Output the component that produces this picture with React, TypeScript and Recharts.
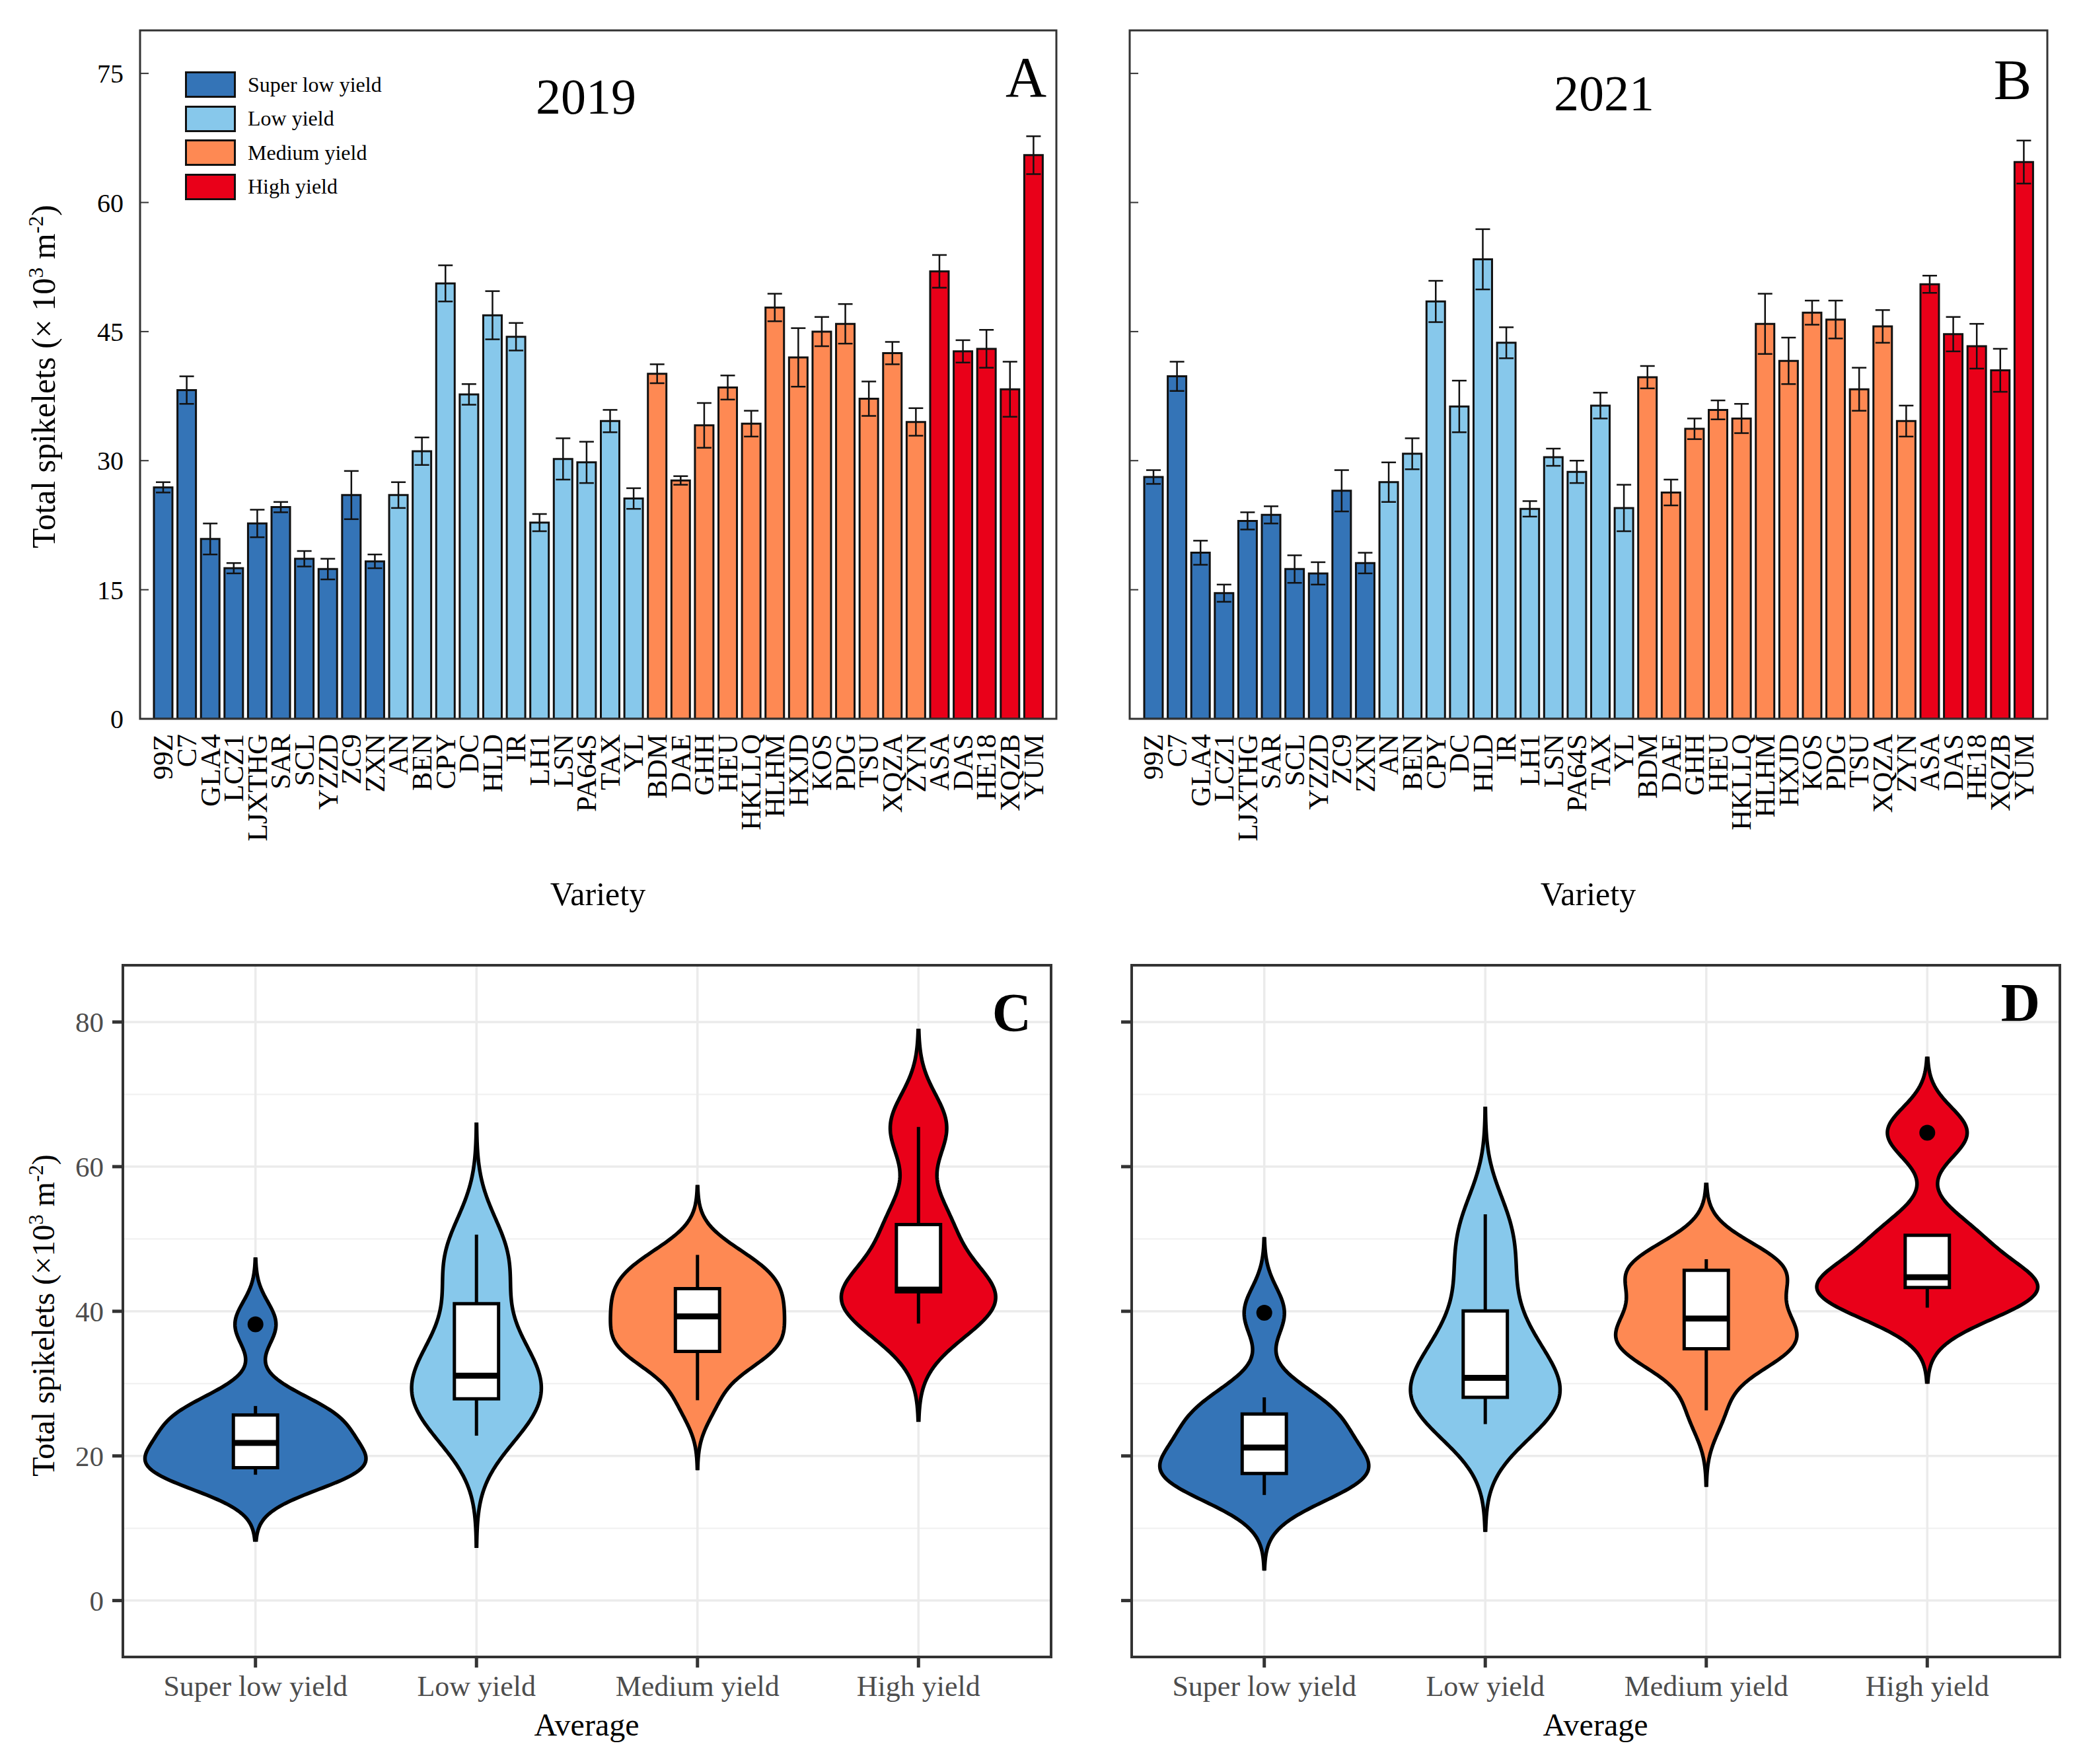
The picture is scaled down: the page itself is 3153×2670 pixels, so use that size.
import React from 'react';
import {
  Area,
  Bar,
  BarChart,
  CartesianGrid,
  Cell,
  ComposedChart,
  ErrorBar,
  Legend,
  ReferenceArea,
  ReferenceDot,
  ReferenceLine,
  XAxis,
  YAxis,
} from 'recharts';

const SERIF = '"Liberation Serif", "Times New Roman", serif';

const VARIETIES = [
  '99Z', 'C7', 'GLA4', 'LCZ1', 'LJXTHG', 'SAR', 'SCL', 'YZZD', 'ZC9', 'ZXN',
  'AN', 'BEN', 'CPY', 'DC', 'HLD', 'IR', 'LH1', 'LSN', 'PA64S', 'TAX', 'YL',
  'BDM', 'DAE', 'GHH', 'HEU', 'HKLLQ', 'HLHM', 'HXJD', 'KOS', 'PDG', 'TSU', 'XQZA', 'ZYN',
  'ASA', 'DAS', 'HE18', 'XQZB', 'YUM',
];
// 0 = super low, 1 = low, 2 = medium, 3 = high
const GROUP_IDX = [
  0, 0, 0, 0, 0, 0, 0, 0, 0, 0,
  1, 1, 1, 1, 1, 1, 1, 1, 1, 1, 1,
  2, 2, 2, 2, 2, 2, 2, 2, 2, 2, 2, 2,
  3, 3, 3, 3, 3,
];
const MEAN_2019 = [
  26.9, 38.2, 20.9, 17.5, 22.7, 24.6, 18.6, 17.4, 26.0, 18.3,
  26.0, 31.1, 50.6, 37.7, 46.9, 44.4, 22.8, 30.2, 29.8, 34.6, 25.6,
  40.1, 27.7, 34.1, 38.5, 34.3, 47.8, 42.0, 45.0, 45.9, 37.2, 42.5, 34.5,
  52.0, 42.7, 43.0, 38.3, 65.5,
];
const SE_2019 = [
  0.6, 1.6, 1.8, 0.6, 1.6, 0.6, 0.9, 1.2, 2.8, 0.8,
  1.5, 1.6, 2.1, 1.2, 2.8, 1.6, 1.0, 2.4, 2.4, 1.3, 1.2,
  1.1, 0.5, 2.6, 1.4, 1.5, 1.6, 3.4, 1.7, 2.3, 2.0, 1.3, 1.6,
  1.9, 1.3, 2.2, 3.2, 2.2,
];
const MEAN_2021 = [
  28.1, 39.8, 19.3, 14.6, 23.0, 23.7, 17.4, 16.9, 26.5, 18.1,
  27.5, 30.8, 48.5, 36.3, 53.4, 43.7, 24.4, 30.4, 28.7, 36.4, 24.5,
  39.7, 26.3, 33.7, 35.9, 34.9, 45.9, 41.6, 47.2, 46.4, 38.3, 45.6, 34.6,
  50.5, 44.7, 43.3, 40.5, 64.7,
];
const SE_2021 = [
  0.8, 1.7, 1.4, 1.0, 1.0, 1.0, 1.6, 1.3, 2.4, 1.2,
  2.3, 1.8, 2.4, 3.0, 3.5, 1.8, 0.9, 1.0, 1.3, 1.5, 2.7,
  1.3, 1.5, 1.2, 1.1, 1.7, 3.5, 2.7, 1.4, 2.2, 2.5, 1.9, 1.8,
  1.0, 2.0, 2.6, 2.5, 2.5,
];

const GROUPS = ['Super low yield', 'Low yield', 'Medium yield', 'High yield'];
const COLORS = ['#3474B7', '#87C8EB', '#FE8953', '#E90019'];
const BAR_TICKS = [0, 15, 30, 45, 60, 75];
const VIOLIN_TICKS = [0, 20, 40, 60, 80];
const VIOLIN_MINOR = [10, 30, 50, 70];

// R type-7 quantile on a sorted array
function quantile(s: number[], p: number) {
  const h = (s.length - 1) * p;
  const i = Math.floor(h);
  const j = Math.min(i + 1, s.length - 1);
  return s[i] + (h - i) * (s[j] - s[i]);
}

// gaussian KDE, bw.nrd0, untrimmed (as geom_violin(trim = FALSE))
function kde(xs: number[]) {
  const n = xs.length;
  const s = [...xs].sort((a, b) => a - b);
  const mean = xs.reduce((a, b) => a + b, 0) / n;
  const sd = Math.sqrt(xs.reduce((a, b) => a + (b - mean) ** 2, 0) / (n - 1));
  const iqr = quantile(s, 0.75) - quantile(s, 0.25);
  const bw = 0.9 * Math.min(sd, iqr / 1.34) * Math.pow(n, -0.2);
  const dens = (y: number) =>
    xs.reduce((a, x) => a + Math.exp(-0.5 * ((y - x) / bw) ** 2), 0) / (n * bw * Math.sqrt(2 * Math.PI));
  const lo = s[0] - 3 * bw;
  const hi = s[n - 1] + 3 * bw;
  let peak = 0;
  for (let k = 0; k <= 512; k++) peak = Math.max(peak, dens(lo + ((hi - lo) * k) / 512));
  return { lo, hi, dens, peak };
}

function boxStats(xs: number[]) {
  const s = [...xs].sort((a, b) => a - b);
  const q1 = quantile(s, 0.25);
  const med = quantile(s, 0.5);
  const q3 = quantile(s, 0.75);
  const f = 1.5 * (q3 - q1);
  const inside = s.filter((v) => v >= q1 - f && v <= q3 + f);
  return {
    q1, med, q3,
    wLo: inside[0],
    wHi: inside[inside.length - 1],
    out: s.filter((v) => v < q1 - f || v > q3 + f),
  };
}

const RotTick = (p: any) => (
  <text
    x={p.x}
    y={p.y}
    transform={`rotate(-90 ${p.x} ${p.y})`}
    textAnchor="end"
    dominantBaseline="central"
    fontSize={43}
    fontFamily={SERIF}
    fill="#000"
  >
    {p.payload.value}
  </text>
);

const LegendBox = () => (
  <div style={{ fontFamily: SERIF, fontSize: 32, color: '#000' }}>
    {GROUPS.map((g, i) => (
      <div key={g} style={{ display: 'flex', alignItems: 'center', height: 40, marginBottom: 11.5 }}>
        <div style={{ width: 71, height: 34, background: COLORS[i], border: '3px solid #111' }} />
        <span style={{ marginLeft: 18, whiteSpace: 'nowrap' }}>{g}</span>
      </div>
    ))}
  </div>
);

function BarPanel({ means, errs, left, width, axisW, pad, labels, legend }: {
  means: number[]; errs: number[]; left: number; width: number; axisW: number;
  pad: number; labels: boolean; legend: boolean;
}) {
  const data = VARIETIES.map((name, i) => ({ name, v: means[i], e: errs[i], g: GROUP_IDX[i] }));
  return (
    <div style={{ position: 'absolute', left, top: 0 }}>
      <BarChart
        width={width}
        height={1420}
        data={data}
        margin={{ top: 46, right: left + width - (left === 0 ? 1599 : 3099), left: 0, bottom: 82 }}
        barSize={28}
      >
        <XAxis
          dataKey="name"
          interval={0}
          height={250}
          tickLine={false}
          axisLine={false}
          tickSize={0}
          tickMargin={23}
          padding={{ left: pad, right: pad }}
          tick={(p: any) => <RotTick {...p} />}
        />
        <YAxis
          type="number"
          domain={[0, 80]}
          ticks={BAR_TICKS}
          interval={0}
          allowDataOverflow
          width={axisW}
          axisLine={false}
          tickSize={-13}
          tickMargin={38}
          tickLine={{ stroke: '#333', strokeWidth: 2 }}
          tickFormatter={(v: number) => (labels ? String(v) : '')}
          tick={{ fontSize: 40, fill: '#000', fontFamily: SERIF }}
        />
        {legend && (
          <Legend
            layout="horizontal"
            align="center"
            verticalAlign="middle"
            wrapperStyle={{ left: 280, top: 108, width: 420, height: 210 }}
            content={() => <LegendBox />}
          />
        )}
        <Bar dataKey="v" stroke="#111" strokeWidth={3} isAnimationActive={false}>
          {data.map((d, i) => (
            <Cell key={i} fill={COLORS[d.g]} />
          ))}
          <ErrorBar dataKey="e" width={11} stroke="#111" strokeWidth={2.5} />
        </Bar>
      </BarChart>
    </div>
  );
}

function ViolinPanel({ means, left, width, axisW, labels }: {
  means: number[]; left: number; width: number; axisW: number; labels: boolean;
}) {
  const groups = GROUPS.map((_, g) => means.filter((_, i) => GROUP_IDX[i] === g));
  const kdes = groups.map(kde);
  const dmax = Math.max(...kdes.map((k) => k.peak));
  const ySet = new Set<number>();
  for (let k = 0; k <= 480; k++) ySet.add(+(-8 + k * 0.2).toFixed(3));
  kdes.forEach((k) => {
    ySet.add(k.lo);
    ySet.add(k.hi);
  });
  const rows = [...ySet]
    .sort((a, b) => a - b)
    .map((y) => {
      const r: any = { y };
      kdes.forEach((k, g) => {
        if (y >= k.lo - 1e-9 && y <= k.hi + 1e-9) {
          const hw = (0.5 * k.dens(y)) / dmax;
          r['g' + g] = [g + 1 - hw, g + 1 + hw];
        } else r['g' + g] = [null, null];
      });
      return r;
    });
  const stats = groups.map(boxStats);
  const plotRight = left === 0 ? 1591 : 3118;
  return (
    <div style={{ position: 'absolute', left, top: 1400 }}>
      <ComposedChart
        layout="vertical"
        width={width}
        height={1270}
        data={rows}
        margin={{ top: 61, right: left + width - plotRight, left: 0, bottom: 42 }}
      >
        <CartesianGrid stroke="#F0F0F0" strokeWidth={2} vertical={false} horizontalValues={VIOLIN_MINOR} />
        <CartesianGrid stroke="#EBEBEB" strokeWidth={3.5} />
        <XAxis
          type="number"
          domain={[0.4, 4.6]}
          ticks={[1, 2, 3, 4]}
          interval={0}
          allowDataOverflow
          height={120}
          axisLine={false}
          tickSize={16}
          tickMargin={12}
          tickLine={{ stroke: '#333', strokeWidth: 5 }}
          tickFormatter={(v: number) => GROUPS[v - 1]}
          tick={{ fontSize: 44, fill: '#4D4D4D', fontFamily: SERIF }}
        />
        <YAxis
          type="number"
          dataKey="y"
          reversed
          domain={[-7.8, 87.85]}
          ticks={VIOLIN_TICKS}
          interval={0}
          allowDataOverflow
          width={axisW}
          axisLine={false}
          tickSize={16}
          tickMargin={13}
          tickLine={{ stroke: '#333', strokeWidth: 5 }}
          tickFormatter={(v: number) => (labels ? String(v) : '')}
          tick={{ fontSize: 43, fill: '#4D4D4D', fontFamily: SERIF }}
        />
        {GROUPS.map((g, i) => (
          <Area
            key={g}
            dataKey={'g' + i}
            type="linear"
            stroke="#000"
            strokeWidth={5.5}
            fill={COLORS[i]}
            fillOpacity={1}
            dot={false}
            activeDot={false}
            isAnimationActive={false}
          />
        ))}
        {stats.map((s, i) => (
          <ReferenceLine
            key={'wl' + i}
            segment={[{ x: i + 1, y: s.wLo }, { x: i + 1, y: s.q1 }]}
            stroke="#000"
            strokeWidth={5}
          />
        ))}
        {stats.map((s, i) => (
          <ReferenceLine
            key={'wh' + i}
            segment={[{ x: i + 1, y: s.q3 }, { x: i + 1, y: s.wHi }]}
            stroke="#000"
            strokeWidth={5}
          />
        ))}
        {stats.map((s, i) => (
          <ReferenceArea
            key={'box' + i}
            x1={i + 1 - 0.1}
            x2={i + 1 + 0.1}
            y1={s.q1}
            y2={s.q3}
            fill="#fff"
            fillOpacity={1}
            stroke="#000"
            strokeWidth={5}
          />
        ))}
        {stats.map((s, i) => (
          <ReferenceLine
            key={'med' + i}
            segment={[{ x: i + 1 - 0.1, y: s.med }, { x: i + 1 + 0.1, y: s.med }]}
            stroke="#000"
            strokeWidth={9}
          />
        ))}
        {stats.flatMap((s, i) =>
          s.out.map((v, k) => (
            <ReferenceDot key={'o' + i + '-' + k} x={i + 1} y={v} r={12} fill="#000" stroke="none" />
          ))
        )}
      </ComposedChart>
    </div>
  );
}

const Titles = () => (
  <svg
    width={3153}
    height={2670}
    style={{ position: 'absolute', left: 0, top: 0, pointerEvents: 'none' }}
    fontFamily={SERIF}
  >
    <rect x={212} y={46} width={1387} height={1042} fill="none" stroke="#333" strokeWidth={3} />
    <rect x={1710} y={46} width={1389} height={1042} fill="none" stroke="#333" strokeWidth={3} />
    <rect x={186} y={1461} width={1405} height={1047} fill="none" stroke="#333" strokeWidth={4} />
    <rect x={1713} y={1461} width={1405} height={1047} fill="none" stroke="#333" strokeWidth={4} />

    <text x={887} y={172} fontSize={76} textAnchor="middle">2019</text>
    <text x={2428} y={167} fontSize={76} textAnchor="middle">2021</text>
    <text x={1584} y={146} fontSize={86} textAnchor="end">A</text>
    <text x={3075} y={150} fontSize={86} textAnchor="end">B</text>
    <text x={1561} y={1560} fontSize={82} fontWeight="bold" textAnchor="end">C</text>
    <text x={3088} y={1545} fontSize={82} fontWeight="bold" textAnchor="end">D</text>

    <text x={905} y={1370} fontSize={50} textAnchor="middle">Variety</text>
    <text x={2404} y={1370} fontSize={50} textAnchor="middle">Variety</text>
    <text x={888} y={2627} fontSize={48} textAnchor="middle">Average</text>
    <text x={2415} y={2627} fontSize={48} textAnchor="middle">Average</text>

    <text x={83} y={570} fontSize={50} textAnchor="middle" transform="rotate(-90 83 570)">
      Total spikelets (× 10<tspan dy={-18} fontSize={32}>3</tspan>
      <tspan dy={18}> m</tspan>
      <tspan dy={-18} fontSize={32}>-2</tspan>
      <tspan dy={18}>)</tspan>
    </text>
    <text x={82} y={1991} fontSize={48} textAnchor="middle" transform="rotate(-90 82 1991)">
      Total spikelets (×10<tspan dy={-17} fontSize={31}>3</tspan>
      <tspan dy={17}> m</tspan>
      <tspan dy={-17} fontSize={31}>-2</tspan>
      <tspan dy={17}>)</tspan>
    </text>
  </svg>
);

export default function App() {
  return (
    <div
      style={{
        position: 'absolute',
        left: 0,
        top: 0,
        width: 3153,
        height: 2670,
        background: '#fff',
        fontFamily: SERIF,
        overflow: 'hidden',
      }}
    >
      <BarPanel means={MEAN_2019} errs={SE_2019} left={0} width={1640} axisW={212} pad={17} labels legend />
      <BarPanel means={MEAN_2021} errs={SE_2021} left={1640} width={1513} axisW={70} pad={18} labels={false} legend={false} />
      <ViolinPanel means={MEAN_2019} left={0} width={1640} axisW={186} labels />
      <ViolinPanel means={MEAN_2021} left={1640} width={1513} axisW={73} labels={false} />
      <Titles />
    </div>
  );
}
